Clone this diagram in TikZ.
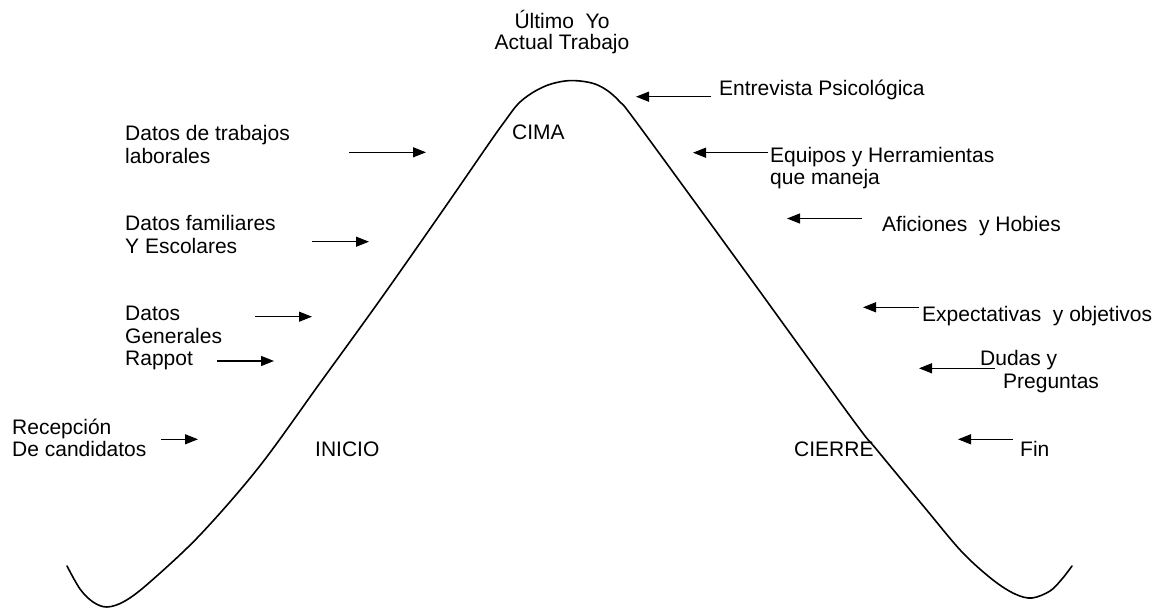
\documentclass[tikz,border=0pt]{standalone}
\usepackage{fontspec}
\setmainfont{Liberation Sans}
\usetikzlibrary{arrows.meta}
\begin{document}
\begin{tikzpicture}[x=1pt,y=-1pt,
  lbl/.style={anchor=base west, inner sep=0pt, align=left, font=\fontsize{21}{22.5}\selectfont},
  ttl/.style={anchor=base, inner sep=0pt, align=center, font=\fontsize{21}{21.5}\selectfont},
  ptr/.style={line width=1.4pt, -{Triangle[length=13pt,width=10pt]}},
  curvestyle/.style={line width=1.6pt, line join=round, line cap=round}]
\useasboundingbox[fill=white] (0,0) rectangle (1159,609);

% curve
\draw[curvestyle] plot[smooth, tension=0.55] coordinates {
 (67,566) (80,589) (93,602) (107,607) (125,601) (150,582) (200,535) (259,467)
 (320,383) (380,300) (441,213) (490,142) (505,121) (518,104) (532,93) (548,85)
 (565,81) (580,81) (595,84) (608,91) (620,102) (637,123) (745,271) (853,420)
 (877,450) (925,508) (962,552) (993,580) (1015,594) (1032,598) (1050,591)
 (1062,579) (1072,566)};

% labels (multi-line nodes: base anchor sits on the last line)
\node[ttl] (ultimo) at (562,50) {Último~ Yo\\Actual Trabajo};
\node[lbl] (cima) at (512,140) {CIMA};
\node[lbl] (inicio) at (315,456.7) {INICIO};
\node[lbl] (cierre) at (794,456.7) {CIERRE};

\node[lbl] (trab) at (125,163.3) {Datos de trabajos\\laborales};
\node[lbl] (fam) at (125,253.3) {Datos familiares\\Y Escolares};
\node[lbl] (gen) at (125,366) {Datos\\Generales\\Rappot};
\node[lbl] (rec) at (12,456.7) {Recepción\\De candidatos};

\node[lbl] (entr) at (719,96) {Entrevista Psicológica};
\node[lbl] (equ) at (770,185) {Equipos y Herramientas\\que maneja};
\node[lbl] (afi) at (882,231.7) {Aficiones~ y Hobies};
\node[lbl] (expe) at (922,321.7) {Expectativas~ y objetivos};
\node[lbl] (dud) at (980,388.3) {Dudas y\\\hspace*{23pt}Preguntas};
\node[lbl] (fin) at (1020,456.7) {Fin};

% arrow ends
\coordinate (a1s) at (349,152.3); \coordinate (a1e) at (426,152.3);
\coordinate (a2s) at (312,241.7); \coordinate (a2e) at (369,241.7);
\coordinate (a3s) at (255,316.7); \coordinate (a3e) at (312,316.7);
\coordinate (a4s) at (217,361);   \coordinate (a4e) at (274,361);
\coordinate (a5s) at (161,439.3); \coordinate (a5e) at (198,439.3);
\coordinate (b1s) at (711,96.7);  \coordinate (b1e) at (636,96.7);
\coordinate (b2s) at (768,152.7); \coordinate (b2e) at (693,152.7);
\coordinate (b3s) at (862,218.5); \coordinate (b3e) at (787,218.5);
\coordinate (b4s) at (919,307.3); \coordinate (b4e) at (863,307.3);
\coordinate (b5s) at (995,368.3); \coordinate (b5e) at (919,368.3);
\coordinate (b6s) at (1013,439.3);\coordinate (b6e) at (958,439.3);

\draw[ptr] (a1s) -- (a1e);
\draw[ptr] (a2s) -- (a2e);
\draw[ptr] (a3s) -- (a3e);
\draw[ptr] (a4s) -- (a4e);
\draw[ptr] (a5s) -- (a5e);
\draw[ptr] (b1s) -- (b1e);
\draw[ptr] (b2s) -- (b2e);
\draw[ptr] (b3s) -- (b3e);
\draw[ptr] (b4s) -- (b4e);
\draw[ptr] (b5s) -- (b5e);
\draw[ptr] (b6s) -- (b6e);
\end{tikzpicture}
\end{document}
